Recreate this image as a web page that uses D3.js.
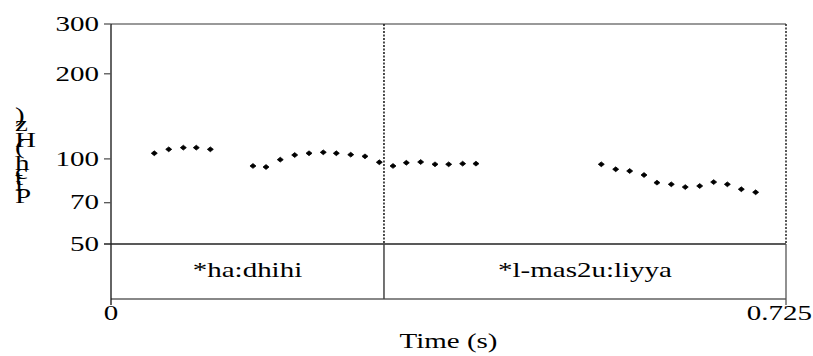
<!DOCTYPE html>
<html><head><meta charset="utf-8">
<script src="https://cdn.jsdelivr.net/npm/d3@7"></script>
<style>html,body{margin:0;padding:0;background:#fff;}svg{display:block;}text{font-family:"Liberation Serif","Times New Roman",serif;fill:#000;}</style>
</head><body>
<script>
const times = [0.0465,0.0620,0.0777,0.0916,0.1067,0.1525,0.1665,0.1818,0.1973,0.2127,0.2280,0.2420,0.2575,0.2728,0.2882,0.3029,0.3172,0.3326,0.3480,0.3627,0.3777,0.3920,0.5266,0.5421,0.5571,0.5725,0.5864,0.6018,0.6168,0.6323,0.6473,0.6620,0.6770,0.6924];
const pitchHz = [104.7,108.1,109.6,109.6,108.1,94.4,93.6,99.4,103.2,104.7,105.5,104.7,103.5,102.1,97.3,94.4,96.9,97.5,95.7,95.7,96.2,96.2,95.7,91.9,90.6,87.7,82.4,81.3,79.5,80.2,82.8,81.3,78.1,76.2];
const yTicks = [50,70,100,200,300];
const xTickLabels = ["0","0.725"];
const tierBoundaries = [0,0.2932,0.725];
const tierLabels = ["*ha:dhihi","*l-mas2u:liyya"];
const yLabel = "Pitch (Hz)";
const xLabel = "Time (s)";

const W=813,H=356, L=111, R=786, T=24, B=244, TB=299;
const SX=1.45, FS=20;
const svg=d3.select("body").append("svg").attr("width",W).attr("height",H);
const x=d3.scaleLinear().domain([0,0.725]).range([L,R]);
const y=d3.scaleLog().domain([50,300]).range([B,T]);

function stext(xx,yy,str,anchor){
  return svg.append("text").attr("transform",`translate(${xx},${yy}) scale(${SX},1)`)
    .attr("text-anchor",anchor).attr("font-size",FS).text(str);
}

// frame
svg.append("line").attr("x1",L).attr("x2",R).attr("y1",T).attr("y2",T).attr("stroke","#777").attr("stroke-width",1.3);
svg.append("line").attr("x1",L).attr("x2",R).attr("y1",TB).attr("y2",TB).attr("stroke","#888").attr("stroke-width",2);
svg.append("line").attr("x1",L).attr("x2",L).attr("y1",T).attr("y2",305).attr("stroke","#111").attr("stroke-width",1.3);
// y axis ticks
const ya=svg.append("g");
yTicks.forEach(v=>{
  const ty=y(v);
  ya.append("line").attr("x1",L-7).attr("x2",v===50?R:L).attr("y1",ty).attr("y2",ty).attr("stroke",v===50?"#222":"#555").attr("stroke-width",1.3);
  stext(99,ty+6.8,String(v),"end");
});
// right edge dotted + tier solid
svg.append("line").attr("x1",R).attr("x2",R).attr("y1",T).attr("y2",B).attr("stroke","#222").attr("stroke-width",1.5).attr("stroke-dasharray","2,1.5");
svg.append("line").attr("x1",R).attr("x2",R).attr("y1",B).attr("y2",305).attr("stroke","#555").attr("stroke-width",1.3);
// tier boundaries
tierBoundaries.slice(1,-1).forEach(t=>{
  svg.append("line").attr("x1",x(t)).attr("x2",x(t)).attr("y1",T).attr("y2",B).attr("stroke","#111").attr("stroke-width",1.5).attr("stroke-dasharray","2,1.5");
  svg.append("line").attr("x1",x(t)).attr("x2",x(t)).attr("y1",B).attr("y2",TB).attr("stroke","#444").attr("stroke-width",1.5);
});
tierLabels.forEach((lab,i)=>{
  stext((x(tierBoundaries[i])+x(tierBoundaries[i+1]))/2,277,lab,"middle");
});
// x tick labels
stext(x(0),319.5,xTickLabels[0],"middle");
stext(812,319.5,xTickLabels[1],"end");
stext((L+R)/2,348,xLabel,"middle");
// y label: upright stacked glyphs
const meas=svg.append("text").attr("font-size",FS);
let chars=[...yLabel];
chars.forEach((c,i)=>{
  meas.text(yLabel.slice(0,i).replace(/ /g,"\u00a0"));
  const off=i===0?0:meas.node().getComputedTextLength()*1.07;
  if(c!==" ") stext(15,203-off,c,"start");
});
meas.remove();
// points
const diamond="M-3,0L0,-2.4L3,0L0,2.4Z";
svg.append("g").selectAll("path").data(times).join("path")
  .attr("d",diamond).attr("transform",(d,i)=>`translate(${x(d)},${y(pitchHz[i])})`)
  .attr("fill","#000").attr("stroke","#000").attr("stroke-width",0.8).attr("stroke-linejoin","round");
</script>
</body></html>
